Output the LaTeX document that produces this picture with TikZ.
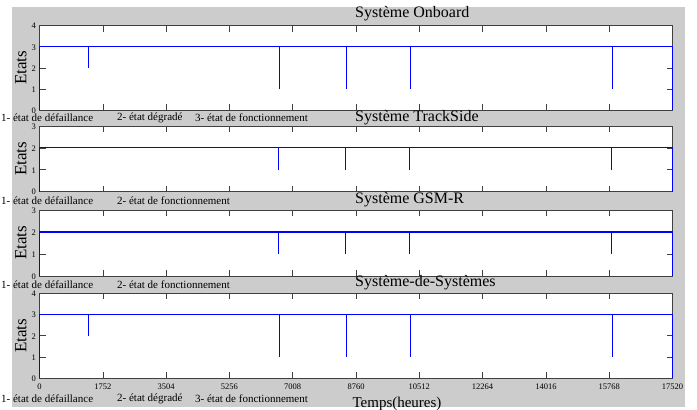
\documentclass[tikz,border=0pt]{standalone}
\usepackage{fontspec}
\setmainfont{Liberation Serif}
\definecolor{bggray}{RGB}{204,204,204}
\definecolor{framec}{RGB}{64,64,64}
\definecolor{plotblue}{RGB}{0,0,255}
\tikzset{
  frame/.style={draw=framec, line width=0.8pt, fill=white},
  tickline/.style={draw=framec, line width=0.6pt},
  sig/.style={draw=plotblue, line width=1.2pt},
  ticklab/.style={font=\fontsize{8.5}{9}\selectfont, inner sep=0pt},
  legtext/.style={font=\fontsize{11}{12}\selectfont, inner sep=0pt, anchor=west},
  titletext/.style={font=\fontsize{16}{18}\selectfont, inner sep=0pt, anchor=west},
  ylab/.style={font=\fontsize{17}{19}\selectfont, inner sep=0pt, rotate=90},
}
% #1 name, #2 bottom, #3 top, #4 ymax, #5 level, #6 drops list x/lev
\newcommand\mypanel[6]{%
  \pgfmathsetmacro\pbot{#2}\pgfmathsetmacro\ptop{#3}%
  \pgfmathsetmacro\punit{(#3-#2)/#4}%
  \pgfmathsetmacro\plev{#2+#5*\punit}%
  \path[frame] (39.5,\pbot) rectangle (672.5,\ptop);
  \foreach \i in {1,...,9}{%
    \pgfmathsetmacro\xx{39.5+\i*63.3}%
    \draw[tickline] (\xx,\pbot) -- ++(0,6);
    \draw[tickline] (\xx,\ptop) -- ++(0,-6);
  }%
  \pgfmathtruncatemacro\ym{#4-1}%
  \foreach \j in {1,...,\ym}{%
    \draw[tickline] (39.5,\pbot+\j*\punit) -- ++(6,0);
    \draw[tickline] (672.5,\pbot+\j*\punit) -- ++(-6,0);
  }%
  \foreach \j in {0,...,#4}{%
    \node[ticklab, anchor=east] (#1y\j) at (36,\pbot+\j*\punit-0.5) {\j};
  }%
  \draw[sig] (39.5,\pbot) -- (39.5,\plev) -- (672.5,\plev) -- (672.5,\pbot)
    \foreach \dx/\dlev in {#6}{ (\dx,\plev) -- (\dx,\pbot+\dlev*\punit) };
  \node[ylab] (#1lab) at (21,{(\pbot+\ptop)/2}) {Etats};
}
\begin{document}
\begin{tikzpicture}[x=1pt,y=1pt]
\useasboundingbox (0,0) rectangle (697,410);
\fill[bggray] (12,3) rectangle (685,403.3);
% panels
\mypanel{a}{300}{384.3}{4}{3}{88.5/2,279.5/1,346.5/1,410.5/1,612.5/1}
\mypanel{b}{218.3}{284}{3}{2}{278.5/1,345.5/1,409.5/1,611.5/1}
\mypanel{c}{134}{200}{3}{2}{278.5/1,345.5/1,409.5/1,611.5/1}
\mypanel{d}{31.7}{116.7}{4}{3}{88.5/2,279.5/1,346.5/1,410.5/1,612.5/1}
% titles
\node[titletext] (t1) at (355,396) {Système Onboard};
\node[titletext] (t2) at (355,292) {Système TrackSide};
\node[titletext] (t3) at (355,210) {Système GSM-R};
\node[titletext] (t4) at (355,127) {Système-de-Systèmes};
% legends
\node[legtext] (l1a) at (1,292) {1- état de défaillance};
\node[legtext] (l1b) at (117,292) {2- état dégradé};
\node[legtext] (l1c) at (195,292) {3- état de fonctionnement};
\node[legtext] (l2a) at (1,209.5) {1- état de défaillance};
\node[legtext] (l2b) at (117,209.5) {2- état de fonctionnement};
\node[legtext] (l3a) at (1,125) {1- état de défaillance};
\node[legtext] (l3b) at (117,125) {2- état de fonctionnement};
\node[legtext] (l4a) at (1,11.5) {1- état de défaillance};
\node[legtext] (l4b) at (117,11.5) {2- état dégradé};
\node[legtext] (l4c) at (195,11.5) {3- état de fonctionnement};
% x tick labels
\foreach \v [count=\k from 0] in {0,1752,3504,5256,7008,8760,10512,12264,14016,15768,17520}{%
  \node[ticklab] (xt\k) at ({39.5+\k*63.3},23) {\v};
}
\node[font=\fontsize{15}{17}\selectfont, inner sep=0pt] (xlab) at (397,6.5) {Temps(heures)};
\end{tikzpicture}
\end{document}
